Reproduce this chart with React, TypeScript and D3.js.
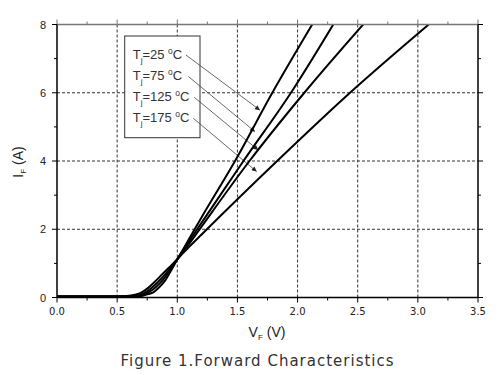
import React from "react";
import * as d3 from "d3";

// ---- data ----
const seriesNames = ["25", "75", "125", "175"];
const vf25 = [0, 0.55, 0.62, 0.68, 0.72, 0.76, 0.8, 0.85, 0.9, 0.95, 1.0, 1.05, 1.1, 1.2, 1.48, 1.79, 2.13];
const if25 = [0.03, 0.03, 0.03, 0.04, 0.06, 0.1, 0.15, 0.3, 0.5, 0.8, 1.12, 1.42, 1.73, 2.34, 4.0, 6.0, 8.05];
const vf75 = [0, 0.55, 0.62, 0.68, 0.72, 0.76, 0.8, 0.85, 0.9, 0.95, 1.0, 1.05, 1.1, 1.2, 1.55, 1.945, 2.3];
const if75 = [0.03, 0.03, 0.035, 0.05, 0.08, 0.15, 0.24, 0.4, 0.6, 0.85, 1.12, 1.39, 1.66, 2.18, 4.0, 6.0, 8.02];
const vf125 = [0, 0.55, 0.6, 0.65, 0.7, 0.75, 0.8, 0.85, 0.9, 0.95, 1.0, 1.05, 1.1, 1.2, 1.6, 2.056, 2.55];
const if125 = [0.03, 0.03, 0.035, 0.05, 0.09, 0.18, 0.32, 0.49, 0.68, 0.89, 1.12, 1.35, 1.58, 2.07, 4.0, 6.0, 8.02];
const vf175 = [0, 0.5, 0.6, 0.65, 0.7, 0.75, 0.8, 0.85, 0.9, 0.95, 1.0, 1.05, 1.1, 1.2, 1.83, 2.436, 3.09];
const if175 = [0.03, 0.03, 0.05, 0.08, 0.14, 0.26, 0.42, 0.59, 0.77, 0.94, 1.12, 1.31, 1.49, 1.84, 4.0, 6.0, 8.0];

const xTicks = [0, 0.5, 1.0, 1.5, 2.0, 2.5, 3.0, 3.5];
const xMinor = [0.25, 0.75, 1.25, 1.75, 2.25, 2.75, 3.25];
const yTicks = [0, 2, 4, 6, 8];
const yMinor = [1, 3, 5, 7];
const xGrid = [0.5, 1.0, 1.5, 2.0, 2.5, 3.0];
const yGrid = [2, 4, 6];

// annotation arrows (data units): from legend text end to curve
const arrowFromV = [1.072, 1.092, 1.141, 1.133];
const arrowFromI = [7.106, 6.477, 5.867, 5.251];
const arrowToV = [1.687, 1.646, 1.673, 1.66];
const arrowToI = [5.49, 4.86, 4.32, 3.69];

const caption = "Figure 1.Forward Characteristics";

export default function App() {
  const W = 500, H = 375;
  const x = d3.scaleLinear().domain([0, 3.5]).range([57, 478]);
  const y = d3.scaleLinear().domain([0, 8]).range([297.5, 24.5]);
  const series = [
    { v: vf25, i: if25 },
    { v: vf75, i: if75 },
    { v: vf125, i: if125 },
    { v: vf175, i: if175 },
  ];
  const line = d3
    .line<[number, number]>()
    .x((d) => x(d[0]))
    .y((d) => y(d[1]))
    .curve(d3.curveMonotoneX);

  const [x0, x1] = x.range();
  const [yb, yt] = y.range();
  const tick = 5, minor = 3;
  const sans = "'Liberation Sans', Arial, sans-serif";
  const verd = "'DejaVu Sans', Verdana, sans-serif";

  // legend box
  const lgX = 124.7, lgY = 36, lgW = 75.3, lgH = 101.7;

  return (
    <svg width={W} height={H} style={{ position: "absolute", left: 0, top: 0, background: "#fff" }}>
      <defs>
        <clipPath id="plot">
          <rect x={x0} y={yt} width={x1 - x0} height={yb - yt} />
        </clipPath>
        <marker id="arr" viewBox="0 0 10 10" refX="10" refY="5" markerWidth="7" markerHeight="5" orient="auto" markerUnits="userSpaceOnUse">
          <path d="M0,0 L10,5 L0,10 z" fill="#222" />
        </marker>
      </defs>
      <rect x={0} y={0} width={W} height={H} fill="#fff" />

      {/* grid */}
      {xGrid.map((g) => (
        <line key={"gx" + g} x1={x(g)} x2={x(g)} y1={yb} y2={yt} stroke="#333" strokeWidth={1} strokeDasharray="3,2" />
      ))}
      {yGrid.map((g) => (
        <line key={"gy" + g} x1={x0} x2={x1} y1={y(g)} y2={y(g)} stroke="#333" strokeWidth={1} strokeDasharray="3,2" />
      ))}

      {/* legend box */}
      <rect x={lgX} y={lgY} width={lgW} height={lgH} fill="#fff" stroke="#333" strokeWidth={1} />
      {seriesNames.map((n, k) => (
        <text key={"lg" + n} x={132.7} y={59.3 + k * 20.8} fontFamily={sans} fontSize={13} fill="#333">
          T<tspan fontSize={8} dy={4}>j</tspan>
          <tspan dy={-4}>={n} </tspan>
          <tspan fontSize={8.5} dy={-5}>o</tspan>
          <tspan dy={5}>C</tspan>
        </text>
      ))}
      {arrowFromV.map((v, k) => (
        <line
          key={"ar" + k}
          x1={x(v)}
          y1={y(arrowFromI[k])}
          x2={x(arrowToV[k])}
          y2={y(arrowToI[k])}
          stroke="#444"
          strokeWidth={0.8}
          markerEnd="url(#arr)"
        />
      ))}

      {/* curves */}
      <g clipPath="url(#plot)">
        {series.map((s, k) => (
          <path
            key={"s" + k}
            d={line(s.v.map((v, j) => [v, s.i[j]] as [number, number])) || ""}
            fill="none"
            stroke="#000"
            strokeWidth={2}
            strokeLinejoin="round"
          />
        ))}
      </g>

      {/* axes frame */}
      <line x1={x0} x2={x1} y1={yt} y2={yt} stroke="#777" strokeWidth={1.5} />
      <line x1={x0} x2={x1} y1={yb} y2={yb} stroke="#000" strokeWidth={1.5} />
      <line x1={x0} x2={x0} y1={yt} y2={yb} stroke="#000" strokeWidth={1.5} />
      <line x1={x1} x2={x1} y1={yt} y2={yb} stroke="#000" strokeWidth={1.5} />

      {/* ticks */}
      {xTicks.map((t) => (
        <g key={"xt" + t}>
          <line x1={x(t)} x2={x(t)} y1={yb} y2={yb + tick} stroke="#000" strokeWidth={1} />
          <line x1={x(t)} x2={x(t)} y1={yt} y2={yt - tick} stroke="#777" strokeWidth={1} />
          <text x={x(t)} y={315} textAnchor="middle" fontFamily={verd} fontSize={10} fill="#222">
            {d3.format(".1f")(t)}
          </text>
        </g>
      ))}
      {xMinor.map((t) => (
        <g key={"xm" + t}>
          <line x1={x(t)} x2={x(t)} y1={yb} y2={yb + minor} stroke="#000" strokeWidth={1} />
          <line x1={x(t)} x2={x(t)} y1={yt} y2={yt - minor} stroke="#777" strokeWidth={1} />
        </g>
      ))}
      {yTicks.map((t) => (
        <g key={"yt" + t}>
          <line x1={x0} x2={x0 - tick} y1={y(t)} y2={y(t)} stroke="#000" strokeWidth={1} />
          <line x1={x1} x2={x1 + tick} y1={y(t)} y2={y(t)} stroke="#000" strokeWidth={1} />
          <text x={46} y={y(t) + 4} textAnchor="end" fontFamily={sans} fontSize={11} fill="#222">
            {t}
          </text>
        </g>
      ))}
      {yMinor.map((t) => (
        <g key={"ym" + t}>
          <line x1={x0} x2={x0 - minor} y1={y(t)} y2={y(t)} stroke="#000" strokeWidth={1} />
          <line x1={x1} x2={x1 + minor} y1={y(t)} y2={y(t)} stroke="#000" strokeWidth={1} />
        </g>
      ))}

      {/* axis titles */}
      <text x={267} y={337} textAnchor="middle" fontFamily={sans} fontSize={14} fill="#222">
        V<tspan fontSize={8} dy={3}>F</tspan>
        <tspan dy={-3}> (V)</tspan>
      </text>
      <text transform="translate(23,162) rotate(-90)" textAnchor="middle" fontFamily={sans} fontSize={14} fill="#222">
        I<tspan fontSize={8} dy={3}>F</tspan>
        <tspan dy={-3}> (A)</tspan>
      </text>

      {/* caption */}
      <text x={257.5} y={366} textAnchor="middle" fontFamily={verd} fontSize={15} letterSpacing={1} fill="#333">
        {caption}
      </text>
    </svg>
  );
}
